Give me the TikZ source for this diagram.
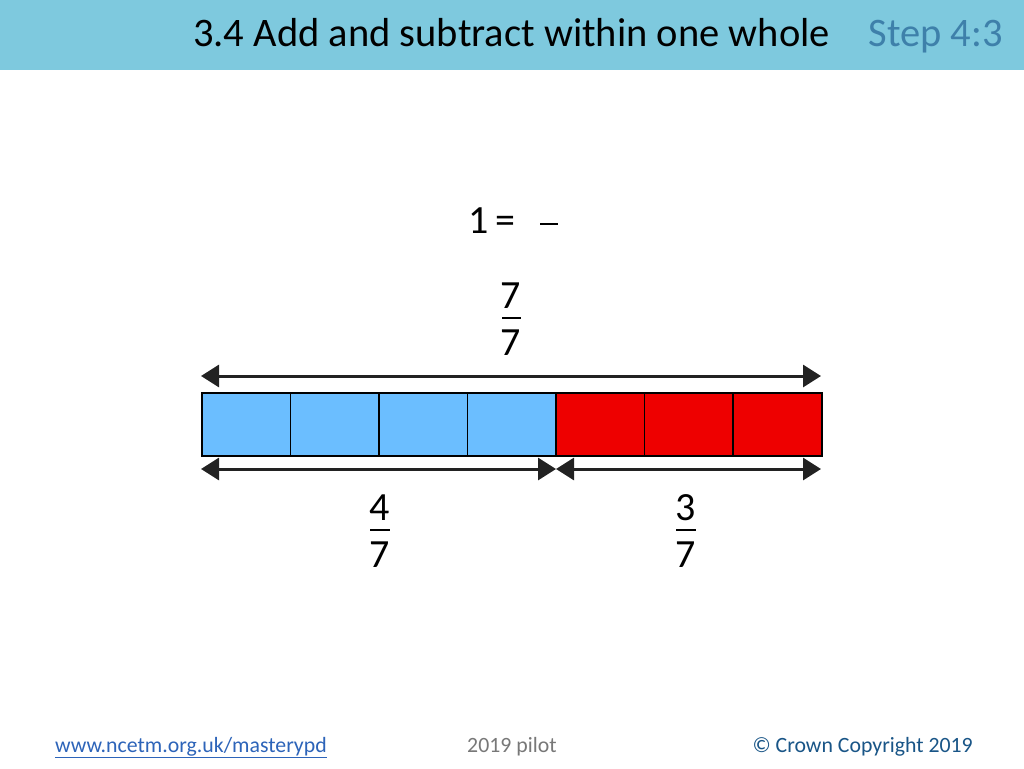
\documentclass[tikz,border=0pt]{standalone}
\usepackage{fontspec}
\setmainfont{Carlito}
\usetikzlibrary{arrows.meta}
\definecolor{header}{RGB}{126,201,222}
\definecolor{steptxt}{RGB}{62,128,170}
\definecolor{cellblue}{RGB}{107,190,255}
\definecolor{cellred}{RGB}{238,0,0}
\definecolor{arrowgray}{RGB}{34,34,34}
\definecolor{linkblue}{RGB}{45,100,185}
\definecolor{crowntxt}{RGB}{25,85,135}
\definecolor{pilotgray}{RGB}{120,120,120}
\tikzset{
  px/.style={x=1pt,y=-1pt},
  cell/.style={draw=black,line width=1.5pt,minimum width=88.57pt,minimum height=63pt,inner sep=0pt,anchor=north west},
  bluecell/.style={cell,fill=cellblue},
  redcell/.style={cell,fill=cellred},
  dimarrow/.style={draw=arrowgray,line width=3pt,{Triangle[length=18pt,width=22pt]}-{Triangle[length=18pt,width=22pt]}},
  num/.style={font=\fontsize{40}{40}\selectfont,inner sep=0pt},
  fracbar/.style={draw=black,line width=1.2pt},
  foot/.style={font=\fontsize{21.8}{21.8}\selectfont,inner sep=0pt},
  head/.style={font=\fontsize{40.5}{40.5}\selectfont,inner sep=0pt}
}
\begin{document}
\begin{tikzpicture}[px]
\useasboundingbox (0,0) rectangle (1024,768);
\fill[white] (0,0) rectangle (1024,768);
\fill[header] (0,0) rectangle (1024,70);
\node[head,anchor=base west] (title) at (193,47) {3.4 Add and subtract within one whole};
\node[head,anchor=base east,text=steptxt] (step) at (1003,47) {Step 4:3};
% 1 = -
\node[num,anchor=base west] (eq) at (468,233) {1\,=};
\draw[fracbar] (540,224) -- (558,224);
% 7/7
\node[num,anchor=base] (n77) at (511,308) {7};
\node[num,anchor=base] (d77) at (511,355) {7};
\draw[fracbar] (502,318) -- (521,318);
% cells
\foreach \i in {0,1,2,3} \node[bluecell] (b\i) at ({201+88.57*\i},392) {};
\foreach \i in {4,5,6} \node[redcell] (r\i) at ({201+88.57*\i},392) {};
% arrows
\coordinate (tl) at (201,376);
\coordinate (tr) at (821,376);
\coordinate (bl) at (201,469);
\coordinate (bm) at (556,469);
\coordinate (br) at (821,469);
\draw[dimarrow] (tl) -- (tr);
\draw[dimarrow] (bl) -- (bm);
\draw[dimarrow] (bm) -- (br);
% 4/7
\node[num,anchor=base] (n47) at (380,520) {4};
\node[num,anchor=base] (d47) at (380,567) {7};
\draw[fracbar] (370,530) -- (390,530);
% 3/7
\node[num,anchor=base] (n37) at (686,520) {3};
\node[num,anchor=base] (d37) at (686,567) {7};
\draw[fracbar] (676,530) -- (696,530);
% footer
\node[foot,anchor=base west,text=linkblue] (url) at (55,752) {\underline{www.ncetm.org.uk/masterypd}};
\node[foot,anchor=base west,text=pilotgray] (pilot) at (467,752) {2019 pilot};
\node[foot,anchor=base east,text=crowntxt] (crown) at (973,752) {© Crown Copyright 2019};
\end{tikzpicture}
\end{document}
